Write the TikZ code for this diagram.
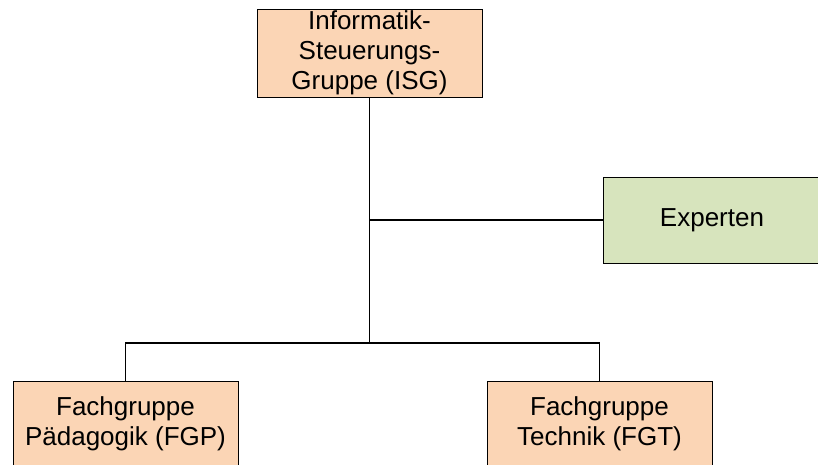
\documentclass[tikz,border=0pt]{standalone}
\usepackage{fontspec}
\setmainfont{Liberation Sans}
\usepackage{tikz}
\usetikzlibrary{positioning,calc}
\definecolor{peach}{RGB}{251,213,181}
\definecolor{sage}{RGB}{215,228,189}

\begin{document}
\begin{tikzpicture}
[x=1pt,y=1pt,
group/.style = {draw, fill = peach, line width = 1pt, align = center, inner sep = 0pt,
  minimum width = 225, minimum height = 88, font = \fontsize{26}{30}\selectfont},
expert/.style = {group, fill = sage, minimum width = 218, minimum height = 86},
link/.style = {line width = 1.2pt},]
\useasboundingbox (0,0) rectangle (818,-464);
\node (ISG) at (369.5,-53)[group] {Informatik-\\Steuerungs-\\Gruppe (ISG)};
\node (EXP) at (712,-220)[expert] {Experten};
\node (FGP) at (125.5,-424)[group,minimum height = 86] {Fachgruppe\\Pädagogik (FGP)};
\node (FGT) at (599.5,-424)[group,minimum height = 86] {Fachgruppe\\Technik (FGT)};
\coordinate (split) at (369.5,-343);
\coordinate (side) at (ISG.south |- EXP.west);
\draw[link] (ISG.south)--(split);
\draw[link] (side)--(EXP.west);
\draw[link] (FGP.north) |- (split) -| (FGT.north);
\end{tikzpicture}
\end{document}
